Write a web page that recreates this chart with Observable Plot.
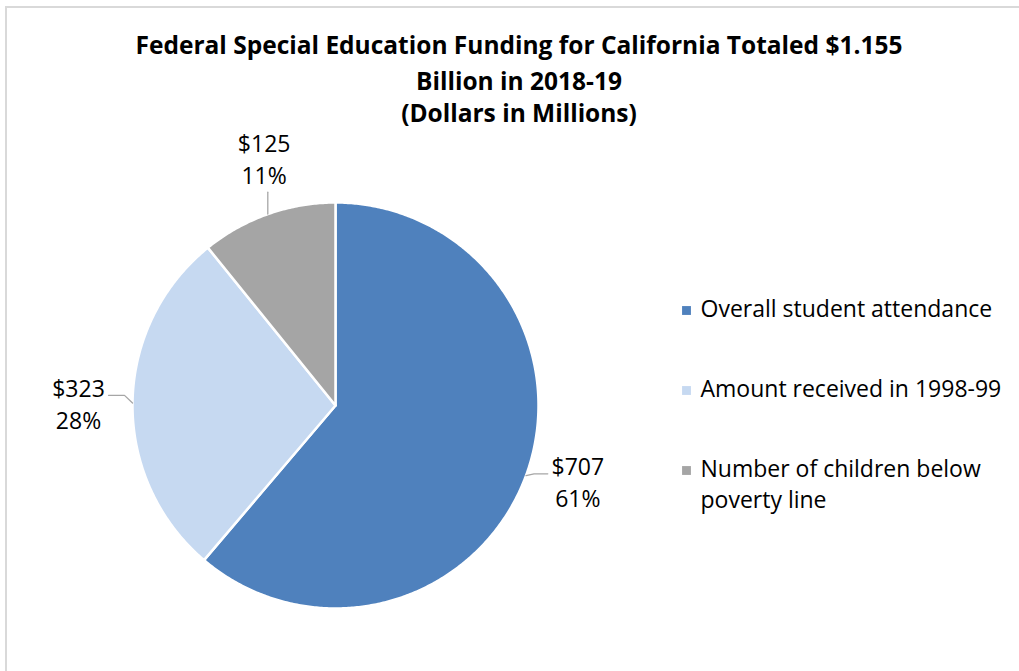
<!DOCTYPE html>
<html>
<head>
<meta charset="utf-8">
<script src="https://cdn.jsdelivr.net/npm/d3@7"></script>
<script src="https://cdn.jsdelivr.net/npm/@observablehq/plot@0.6"></script>
<style>
  body { margin: 0; background: #fff; }
  #wrap { position: relative; width: 1019px; height: 671px; overflow: hidden; font-family: "Open Sans", Lato, sans-serif; }
  #frame { position: absolute; left: 5px; top: 6px; width: 1100px; height: 800px; border: 2px solid #d9d9d9; box-sizing: border-box; pointer-events: none; }
  .tl { position: absolute; left: 19px; width: 1000px; text-align: center; font-weight: 700; font-size: 24.5px; line-height: 24.5px; color: #000; white-space: nowrap; }
  #chart { position: absolute; left: 0; top: 118px; }
  #chart svg { font-family: "Open Sans", Lato, sans-serif; background: transparent; overflow: visible; }
</style>
</head>
<body>
<div id="wrap">
  <div id="chart"></div>
  <div id="frame"></div>
  <div class="tl" style="top:33px">Federal Special Education Funding for California Totaled $1.155</div>
  <div class="tl" style="top:69px">Billion in 2018-19</div>
  <div class="tl" style="top:101px">(Dollars in Millions)</div>
</div>
<script>
// ---- data ----
const categories = ["Overall student attendance", "Amount received in 1998-99", "Number of children below poverty line"];
const amounts = [707, 323, 125];
const colors = ["#4f81bd", "#c6d9f1", "#a5a5a5"];

// ---- layout ----
const W = 1019, H = 671, TOP = 118;
const cx = 335, cy = 405, R = 203;
const labelR = 256;
const labelNudge = [[2, -13], [-1, 0], [14, -6]];
const FS = 23, LH = 1.39;
const legendX = 686, legendTextX = 700, legendY0 = 310, legendStep = 80;

const total = d3.sum(amounts);
const arcs = d3.pie().sort(null).startAngle(0).endAngle(2 * Math.PI)(amounts);
const pt = (a, r) => ({x: cx + r * Math.sin(a), y: cy - r * Math.cos(a)});

// slice polygons
const sliceMarks = arcs.map((a, i) => {
  const pts = [{x: cx, y: cy}];
  const n = Math.max(2, Math.ceil((a.endAngle - a.startAngle) / (Math.PI / 360)));
  for (let k = 0; k <= n; k++) pts.push(pt(a.startAngle + (a.endAngle - a.startAngle) * k / n, R));
  pts.push({x: cx, y: cy});
  return Plot.line(pts, {x: "x", y: "y", fill: colors[i], stroke: "#fff", strokeWidth: 2.5, strokeLinejoin: "round"});
});

// labels
const labels = arcs.map((a, i) => {
  const mid = (a.startAngle + a.endAngle) / 2;
  const p = pt(mid, labelR);
  return {
    x: p.x + labelNudge[i][0], y: p.y + labelNudge[i][1], mid,
    text: "$" + amounts[i] + "\n" + Math.round(amounts[i] / total * 100) + "%"
  };
});

// leader lines
const leaders = [];
labels.forEach((l, i) => {
  const p0 = pt(l.mid, R);
  const s = Math.sin(l.mid), c = Math.cos(l.mid);
  if (Math.abs(s) > 0.5) {
    const sg = Math.sign(s);
    const yEnd = l.y - 7;
    leaders.push({i, x: p0.x, y: p0.y}, {i, x: p0.x + sg * 8, y: yEnd}, {i, x: l.x - sg * 30, y: yEnd});
  } else {
    const yEnd = c > 0 ? l.y + 34 : l.y - 34;
    leaders.push({i, x: p0.x, y: p0.y}, {i, x: p0.x, y: yEnd});
  }
});

// legend
const wrap = (s, max) => {
  const words = s.split(" "); const lines = []; let cur = "";
  for (const w of words) {
    if ((cur + " " + w).trim().length > max) { lines.push(cur); cur = w; } else cur = (cur + " " + w).trim();
  }
  lines.push(cur); return lines.join("\n");
};
const legend = categories.map((c, i) => ({name: c, label: wrap(c, 26), color: colors[i], y: legendY0 + i * legendStep}));

const chart = Plot.plot({
  width: W, height: H - TOP,
  margin: 0,
  style: {background: "transparent", overflow: "visible"},
  x: {domain: [0, W], range: [0, W], axis: null},
  y: {domain: [TOP, H], range: [0, H - TOP], axis: null},
  marks: [
    ...sliceMarks,
    Plot.line(leaders, {x: "x", y: "y", z: "i", stroke: "#a6a6a6", strokeWidth: 1.3}),
    Plot.text(labels, {x: "x", y: "y", text: "text", fontSize: FS, lineHeight: LH, fill: "#000", lineAnchor: "middle"}),
    Plot.dot(legend, {x: () => legendX, y: "y", symbol: "square", r: 5, fill: "color", stroke: null}),
    Plot.text(legend, {x: () => legendTextX, y: (d) => d.y + 6 - 0.71 * LH * FS, text: "label", textAnchor: "start", lineAnchor: "top", fontSize: FS, lineHeight: LH, fill: "#000"})
  ]
});
document.getElementById("chart").appendChild(chart);
</script>
</body>
</html>
